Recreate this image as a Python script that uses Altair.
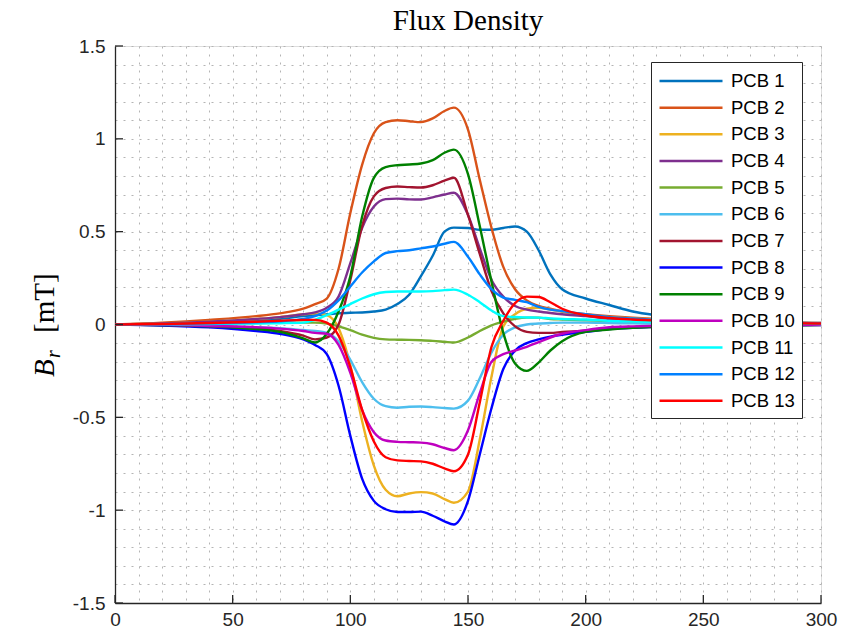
import altair as alt
import pandas as pd

# ---- data ----
xs = [0, 20, 40, 60, 70, 80, 85, 90, 95, 100, 105, 110, 115, 120, 125, 130, 135, 140, 144,
      150, 155, 160, 165, 170, 175, 180, 185, 190, 200, 210, 220, 230, 250, 275, 300]

pcb1 = [0, 0.003, 0.01, 0.02, 0.03, 0.045, 0.05, 0.055, 0.06, 0.063, 0.065, 0.07, 0.08, 0.11, 0.16,
        0.26, 0.37, 0.50, 0.522, 0.52, 0.51, 0.51, 0.52, 0.528, 0.50, 0.40, 0.27, 0.19, 0.14, 0.105,
        0.07, 0.05, 0.03, 0.015, 0.008]
pcb2 = [0, 0.01, 0.025, 0.045, 0.06, 0.085, 0.11, 0.14, 0.30, 0.60, 0.86, 1.03, 1.09, 1.10, 1.095,
        1.09, 1.11, 1.15, 1.168, 1.05, 0.78, 0.52, 0.31, 0.19, 0.13, 0.10, 0.085, 0.07, 0.055, 0.045,
        0.037, 0.03, 0.02, 0.013, 0.008]
pcb3 = [0, 0.005, 0.015, 0.03, 0.04, 0.055, 0.06, 0.05, -0.02, -0.22, -0.52, -0.76, -0.89, -0.925, -0.91,
        -0.903, -0.91, -0.94, -0.96, -0.90, -0.62, -0.28, -0.01, 0.055, 0.085, 0.09, 0.08, 0.07, 0.05, 0.04,
        0.033, 0.027, 0.018, 0.01, 0.006]
pcb4 = [0, 0.005, 0.015, 0.03, 0.04, 0.055, 0.065, 0.09, 0.15, 0.33, 0.52, 0.635, 0.675, 0.678, 0.674,
        0.673, 0.685, 0.70, 0.71, 0.59, 0.41, 0.24, 0.15, 0.10, 0.08, 0.07, 0.062, 0.055, 0.045, 0.03,
        0.025, 0.02, 0.013, 0.008, 0.005]
pcb5 = [0, 0.002, 0.005, 0.008, 0.009, 0.01, 0.01, 0.005, -0.01, -0.03, -0.055, -0.072, -0.08, -0.082, -0.083,
        -0.085, -0.088, -0.093, -0.097, -0.07, -0.035, -0.005, 0.015, 0.03, 0.037, 0.037, 0.03, 0.027, 0.022, 0.018,
        0.015, 0.012, 0.008, 0.005, 0.003]
pcb6 = [0, -0.003, -0.008, -0.015, -0.02, -0.03, -0.035, -0.045, -0.09, -0.19, -0.31, -0.40, -0.44, -0.448, -0.443,
        -0.442, -0.445, -0.45, -0.453, -0.41, -0.29, -0.15, -0.055, -0.015, 0.0, 0.005, 0.008, 0.01, 0.01, 0.008,
        0.006, 0.005, 0.003, 0.002, 0.001]
pcb7 = [0, -0.003, -0.01, -0.02, -0.035, -0.06, -0.08, -0.07, 0.0, 0.24, 0.53, 0.69, 0.735, 0.743, 0.74,
        0.738, 0.75, 0.775, 0.79, 0.59, 0.38, 0.18, 0.06, -0.01, -0.04, -0.045, -0.045, -0.04, -0.033, -0.02,
        -0.015, -0.012, -0.008, -0.005, -0.003]
pcb8 = [0, -0.005, -0.015, -0.035, -0.05, -0.08, -0.11, -0.16, -0.33, -0.60, -0.83, -0.95, -0.995, -1.01, -1.01,
        -1.008, -1.03, -1.06, -1.077, -0.95, -0.70, -0.45, -0.24, -0.14, -0.10, -0.08, -0.065, -0.055, -0.04, -0.025,
        -0.018, -0.013, -0.008, -0.005, -0.003]
pcb9 = [0, -0.003, -0.01, -0.025, -0.04, -0.075, -0.097, -0.05, 0.07, 0.26, 0.58, 0.79, 0.848, 0.858, 0.862,
        0.867, 0.885, 0.925, 0.942, 0.81, 0.53, 0.23, -0.045, -0.21, -0.25, -0.205, -0.14, -0.09, -0.04, -0.027,
        -0.018, -0.012, -0.007, -0.004, -0.002]
pcb10 = [0, -0.002, -0.008, -0.015, -0.022, -0.035, -0.045, -0.05, -0.11, -0.26, -0.46, -0.58, -0.625, -0.632, -0.634,
         -0.636, -0.645, -0.665, -0.677, -0.57, -0.37, -0.20, -0.16, -0.14, -0.12, -0.095, -0.07, -0.05, -0.03, -0.015,
         -0.01, -0.008, -0.005, -0.003, -0.002]
pcb11 = [0, 0.001, 0.003, 0.005, 0.007, 0.01, 0.025, 0.05, 0.08, 0.11, 0.14, 0.163, 0.175, 0.178, 0.178,
         0.178, 0.18, 0.185, 0.188, 0.16, 0.12, 0.075, 0.045, 0.04, 0.038, 0.037, 0.033, 0.03, 0.027, 0.02,
         0.016, 0.013, 0.008, 0.005, 0.003]
pcb12 = [0, 0.002, 0.006, 0.012, 0.017, 0.03, 0.045, 0.075, 0.13, 0.205, 0.28, 0.34, 0.385, 0.395, 0.40,
         0.41, 0.42, 0.435, 0.445, 0.365, 0.27, 0.19, 0.145, 0.133, 0.12, 0.095, 0.08, 0.072, 0.055, 0.04,
         0.032, 0.025, 0.015, 0.009, 0.005]
pcb13 = [0, 0.003, 0.008, 0.015, 0.02, 0.025, 0.025, 0.01, -0.06, -0.23, -0.46, -0.63, -0.715, -0.732, -0.735,
         -0.737, -0.75, -0.775, -0.79, -0.70, -0.42, -0.12, 0.02, 0.115, 0.15, 0.148, 0.12, 0.085, 0.05, 0.035,
         0.027, 0.022, 0.014, 0.008, 0.005]

series = [pcb1, pcb2, pcb3, pcb4, pcb5, pcb6, pcb7, pcb8, pcb9, pcb10, pcb11, pcb12, pcb13]
names = [f"PCB {i}" for i in range(1, 14)]
colors = ["#0072BD", "#D95319", "#EDB120", "#7E2F8E", "#77AC30", "#4DBEEE", "#A2142F",
          "#0000FF", "#008000", "#BF00BF", "#00FFFF", "#0080FF", "#FF0000"]

x_ticks = [0, 50, 100, 150, 200, 250, 300]
y_ticks = [-1.5, -1.0, -0.5, 0.0, 0.5, 1.0, 1.5]
x_grid = list(range(0, 301, 10))
y_grid = [round(-1.5 + 0.1 * i, 1) + 0.0 for i in range(31)]

title_text = "Flux Density"

rows = []
for name, vals in zip(names, series):
    assert len(vals) == len(xs), name
    for xv, yv in zip(xs, vals):
        rows.append({"x": xv, "y": yv, "series": name})
df = pd.DataFrame(rows)

# ---- styling ----
W, H = 706, 557
AX = "#262626"
GRID = "#b4b4b4"
xscale = alt.Scale(domain=[0, 300], nice=False, zero=False)
yscale = alt.Scale(domain=[-1.5, 1.5], nice=False, zero=False)

xaxis = alt.Axis(values=x_grid, grid=True, ticks=False, title="",
                 labelExpr="datum.value % 50 == 0 ? '' + datum.value : ''",
                 labelOverlap=False, labelFlush=False, labelPadding=7,
                 labelFont="Liberation Sans", labelFontSize=19, labelColor=AX,
                 domainColor=AX, domainWidth=1.3,
                 gridColor=GRID, gridDash=[2, 6], gridWidth=1)
yaxis = alt.Axis(values=y_grid, grid=True, ticks=False, title="",
                 labelExpr="abs(datum.value*2 - round(datum.value*2)) < 0.001 ? '' + datum.value : ''",
                 labelOverlap=False, labelFlush=False, labelPadding=10,
                 labelFont="Liberation Sans", labelFontSize=19, labelColor=AX,
                 domainColor=AX, domainWidth=1.3,
                 gridColor=GRID, gridDash=[2, 6], gridWidth=1)

lines = alt.Chart(df).mark_line(strokeWidth=2.4, interpolate="monotone").encode(
    x=alt.X("x:Q", scale=xscale, axis=xaxis),
    y=alt.Y("y:Q", scale=yscale, axis=yaxis),
    color=alt.Color("series:N", sort=names,
                    scale=alt.Scale(domain=names, range=colors),
                    legend=alt.Legend(title=None, orient="none", legendX=536, legendY=16,
                                      fillColor="white", strokeColor=AX, padding=7,
                                      symbolType="M-1,0H5", symbolSize=441, symbolStrokeWidth=2.5,
                                      labelOffset=49, labelFont="Liberation Sans",
                                      labelFontSize=18.5, labelColor="black",
                                      rowPadding=4.65, labelLimit=200)),
    order=alt.Order("x:Q"),
)

xt = alt.Chart(pd.DataFrame({"t": x_ticks})).mark_rule(color=AX, strokeWidth=1.3).encode(
    x=alt.X("t:Q", scale=xscale, axis=xaxis),
    y=alt.value(H), y2=alt.value(H - 8),
)
yt = alt.Chart(pd.DataFrame({"t": y_ticks})).mark_rule(color=AX, strokeWidth=1.3).encode(
    y=alt.Y("t:Q", scale=yscale, axis=yaxis),
    x=alt.value(0), x2=alt.value(8),
)

one = pd.DataFrame({"a": [0]})
tB = alt.Chart(one).mark_text(text="B", font="Liberation Serif", fontStyle="italic", fontSize=29,
                              angle=270, align="left", baseline="alphabetic", color="black").encode(
    x=alt.value(-61.5), y=alt.value(331))
tr = alt.Chart(one).mark_text(text="r", font="Liberation Serif", fontStyle="italic", fontSize=20,
                              angle=270, align="left", baseline="alphabetic", color="black").encode(
    x=alt.value(-55.5), y=alt.value(312))
tu = alt.Chart(one).mark_text(text="[mT]", font="Liberation Serif", fontSize=29,
                              angle=270, align="left", baseline="alphabetic", color="black").encode(
    x=alt.value(-61.5), y=alt.value(287))
tt = alt.Chart(one).mark_text(text=title_text, font="Liberation Serif", fontSize=29,
                              align="center", baseline="alphabetic", color="black").encode(
    x=alt.value(W / 2), y=alt.value(-16))

chart = alt.layer(lines, xt, yt, tB, tr, tu, tt).properties(
    width=W, height=H,
    autosize=alt.AutoSizeParams(type="none"),
    padding={"left": 115, "top": 46, "right": 40, "bottom": 36},
).configure_view(stroke="transparent").configure(background="white")

chart.save("out.html", embed_options={"renderer": "svg", "actions": False})
